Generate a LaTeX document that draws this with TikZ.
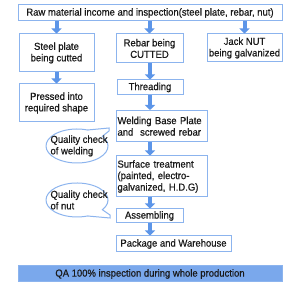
\documentclass[tikz,border=0pt]{standalone}
\usepackage{fontspec}
\setmainfont{Liberation Sans}[FakeStretch=0.93,FakeBold=0.6]
\usetikzlibrary{arrows.meta}
\definecolor{boxc}{HTML}{8CB4EE}
\definecolor{arrc}{HTML}{5C95E8}
\definecolor{qafill}{HTML}{7AA8EC}
\definecolor{txt}{HTML}{1A1A1A}
\newcommand\myfnt{\fontsize{10.2}{11.5}\selectfont}
\tikzset{
  box/.style={draw=boxc, line width=1pt, fill=white, inner sep=0pt, font=\myfnt, align=center, text=txt},
  lbox/.style={box, align=left},
  flow/.style={draw=arrc, line width=4pt, -{Triangle[width=10pt,length=5pt]}},
  callout/.style={draw=boxc, line width=1pt, fill=white},
  ctext/.style={font=\myfnt, align=left, text=txt, inner sep=0pt}
}
\begin{document}
\begin{tikzpicture}[x=1pt,y=1pt]
\useasboundingbox[fill=white] (0,0) rectangle (300,288);
\node[box, minimum width=264pt, minimum height=16pt] (top) at (150,275) {Raw material income and inspection(steel plate, rebar, nut)};
\node[box, minimum width=75pt, minimum height=38pt] (steel) at (56.5,235) {Steel plate\\being cutted};
\node[box, minimum width=75pt, minimum height=38pt] (pressed) at (56.5,185) {Pressed into\\required shape};
\node[box, minimum width=67pt, minimum height=29pt] (rebar) at (149.5,239.5) {Rebar being\\CUTTED};
\node[box, minimum width=75pt, minimum height=28pt] (jack) at (244.5,240) {Jack NUT\\being galvanized};
\node[box, minimum width=66pt, minimum height=15pt] (thread) at (150,200.5) {Threading};
\node[lbox, text width=88pt, minimum width=91pt, minimum height=31.5pt] (weld) at (161.5,161.75) {Welding Base Plate\\and~ screwed rebar};
\node[lbox, text width=88pt, minimum width=91pt, minimum height=41pt] (surf) at (161.5,111.5) {Surface treatment\\(painted, electro-\\galvanized, H.D.G)};
\node[box, minimum width=67pt, minimum height=14pt] (assem) at (149.5,72) {Assembling};
\node[box, minimum width=115pt, minimum height=16pt] (pack) at (173.5,44) {Package and Warehouse};
\node[box, fill=qafill, minimum width=264pt, minimum height=16pt] (qa) at (150,14) {QA 100\% inspection during whole production};
\coordinate (mc) at (150,0);
\draw[flow] (top.south -| steel) -- (steel.north);
\draw[flow] (top.south -| rebar) -- (rebar.north);
\draw[flow] (top.south -| jack) -- (jack.north);
\draw[flow] (steel.south) -- (pressed.north);
\draw[flow] (rebar.south -| mc) -- (thread.north -| mc);
\draw[flow] (thread.south -| mc) -- (weld.north -| mc);
\draw[flow] (weld.south -| mc) -- (surf.north -| mc);
\draw[flow] (surf.south -| mc) -- (assem.north -| mc);
\draw[flow] (assem.south -| mc) -- (pack.north -| mc);
% callout 1
\draw[callout] (87.6,158.0) -- (109,160) -- (109,157) -- (102.4,151.75)
  arc[start angle=35, end angle=-290, x radius=31pt, y radius=17pt] -- cycle;
\node[ctext] (q1) at (79,142) {Quality check\\of welding};
% callout 2
\draw[callout] (87.6,72.0) -- (110,70) -- (110,73) -- (102.4,78.25)
  arc[start angle=-35, end angle=290, x radius=31pt, y radius=17pt] -- cycle;
\node[ctext] (q2) at (79,88) {Quality check\\of nut};
\end{tikzpicture}
\end{document}
